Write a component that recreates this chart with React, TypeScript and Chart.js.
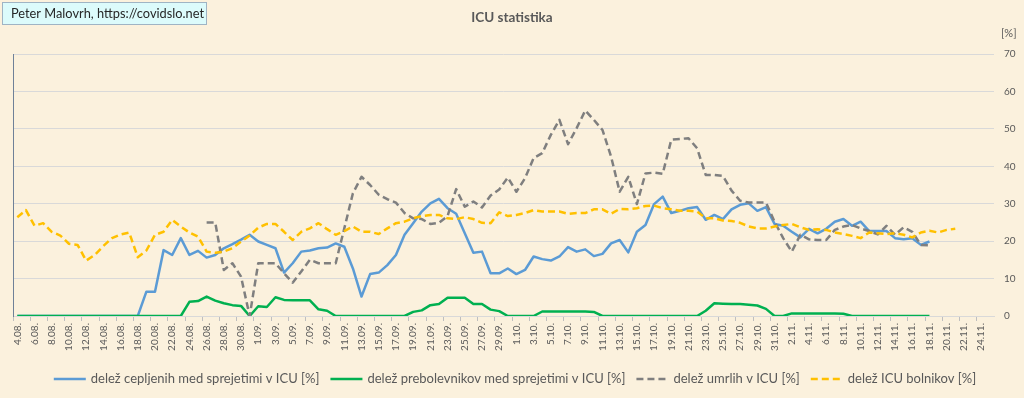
import React, { useEffect, useRef } from 'react';
import { Chart, registerables } from 'chart.js';

Chart.register(...registerables);

const dateLabels = [
  '4.08.', '5.08.', '6.08.', '7.08.', '8.08.', '9.08.', '10.08.', '11.08.', '12.08.', '13.08.',
  '14.08.', '15.08.', '16.08.', '17.08.', '18.08.', '19.08.', '20.08.', '21.08.', '22.08.', '23.08.',
  '24.08.', '25.08.', '26.08.', '27.08.', '28.08.', '29.08.', '30.08.', '31.08.',
  '1.09.', '2.09.', '3.09.', '4.09.', '5.09.', '6.09.', '7.09.', '8.09.', '9.09.', '10.09.',
  '11.09.', '12.09.', '13.09.', '14.09.', '15.09.', '16.09.', '17.09.', '18.09.', '19.09.', '20.09.',
  '21.09.', '22.09.', '23.09.', '24.09.', '25.09.', '26.09.', '27.09.', '28.09.', '29.09.', '30.09.',
  '1.10.', '2.10.', '3.10.', '4.10.', '5.10.', '6.10.', '7.10.', '8.10.', '9.10.', '10.10.',
  '11.10.', '12.10.', '13.10.', '14.10.', '15.10.', '16.10.', '17.10.', '18.10.', '19.10.', '20.10.',
  '21.10.', '22.10.', '23.10.', '24.10.', '25.10.', '26.10.', '27.10.', '28.10.', '29.10.', '30.10.', '31.10.',
  '1.11.', '2.11.', '3.11.', '4.11.', '5.11.', '6.11.', '7.11.', '8.11.', '9.11.', '10.11.',
  '11.11.', '12.11.', '13.11.', '14.11.', '15.11.', '16.11.', '17.11.', '18.11.', '19.11.', '20.11.',
  '21.11.', '22.11.', '23.11.', '24.11.', '25.11.',
];

// delež cepljenih med sprejetimi v ICU [%]
const vaccinatedShare = [
  0, 0, 0, 0, 0, 0, 0, 0, 0, 0, 0, 0, 0, 0,
  0, 6.5, 6.5, 17.6, 16.3, 20.8, 16.3, 17.4, 15.6, 16.3, 18.1, 19.2, 20.4, 21.7,
  19.9, 19.0, 18.1, 11.6, 14.1, 17.2, 17.5, 18.1, 18.3, 19.4, 18.5, 12.7, 5.2, 11.2,
  11.6, 13.6, 16.3, 21.7, 24.8, 27.9, 30.1, 31.3, 28.8, 27.3, 22.1, 16.9, 17.2, 11.4,
  11.4, 12.7, 11.2, 12.3, 15.9, 15.2, 14.8, 15.9, 18.4, 17.2, 17.8, 16.0, 16.6, 19.4,
  20.3, 17.0, 22.5, 24.3, 29.9, 31.9, 27.5, 28.1, 28.8, 29.1, 25.7, 27.0, 25.9, 28.5,
  29.7, 30.1, 28.1, 29.1, 24.6, 24.1, 22.5, 21.0, 23.3, 22.1, 23.3, 25.2, 25.9, 24.1,
  25.2, 22.7, 22.7, 22.7, 20.8, 20.5, 20.8, 19.0, 19.9,
  null, null, null, null, null, null, null,
];

// delež prebolevnikov med sprejetimi v ICU [%]
const recoveredShare = [
  0, 0, 0, 0, 0, 0, 0, 0, 0, 0, 0, 0, 0, 0, 0, 0, 0, 0, 0, 0,
  3.8, 4.0, 5.2, 4.1, 3.4, 2.9, 2.7, 0, 2.6, 2.4, 5.0, 4.3, 4.2, 4.2, 4.2, 1.8, 1.4,
  0, 0, 0, 0, 0, 0, 0, 0, 0,
  1.1, 1.5, 2.9, 3.2, 4.9, 4.9, 4.9, 3.2, 3.2, 1.7, 1.3,
  0, 0, 0, 0,
  1.2, 1.2, 1.2, 1.2, 1.2, 1.2, 1.1,
  0, 0, 0, 0, 0, 0, 0, 0, 0, 0, 0, 0,
  1.4, 3.4, 3.3, 3.2, 3.2, 3.0, 2.8, 1.9,
  0, 0,
  0.7, 0.7, 0.7, 0.7, 0.7, 0.7, 0.6,
  0, 0, 0, 0, 0, 0, 0, 0, 0, 0,
  null, null, null, null, null, null, null,
];

// delež umrlih v ICU [%]
const deceasedShare = [
  null, null, null, null, null, null, null, null, null, null, null,
  null, null, null, null, null, null, null, null, null, null, null,
  25.0, 25.0, 12.3, 14.1, 10.5, 0, 14.1, 14.1, 14.1, 11.4, 8.9, 11.9, 15.0, 14.1,
  14.1, 14.1, 23.4, 32.8, 37.2, 35.0, 32.4, 31.2, 30.3, 27.5, 26.1, 25.9, 24.6, 24.9,
  26.7, 33.9, 29.2, 30.6, 29.0, 32.2, 33.8, 37.0, 33.2, 36.8, 42.2, 43.5, 48.4, 52.4,
  45.9, 50.2, 54.9, 52.4, 49.7, 42.6, 33.2, 37.2, 29.9, 38.1, 38.3, 38.0, 47.1, 47.3,
  47.5, 44.8, 37.7, 37.7, 37.4, 33.5, 30.8, 30.3, 30.3, 30.3, 25.2, 20.8, 17.2, 21.7,
  20.5, 20.3, 20.3, 23.0, 23.9, 24.3, 23.4, 22.7, 21.8, 24.1, 21.7, 23.7, 22.5, 19.0,
  18.9,
  null, null, null, null, null, null, null,
];

// delež ICU bolnikov [%]
const icuPatientShare = [
  26.4, 28.3, 24.1, 24.8, 22.5, 21.5, 19.3, 19.0, 14.8, 16.3, 18.7, 20.8, 21.8, 22.3,
  15.7, 17.5, 21.7, 22.5, 25.7, 23.9, 22.3, 21.2, 17.2, 16.9, 17.2, 18.1, 19.9, 21.5,
  23.6, 24.6, 24.6, 22.5, 20.3, 22.5, 23.4, 24.8, 23.2, 21.7, 22.7, 23.9, 22.5, 22.5,
  21.9, 23.4, 24.8, 25.2, 26.1, 26.7, 27.0, 27.0, 26.1, 25.9, 26.4, 25.9, 24.9, 24.8,
  27.7, 26.7, 27.0, 27.5, 28.3, 27.9, 27.9, 27.9, 27.3, 27.5, 27.5, 28.5, 28.5, 27.3,
  28.6, 28.5, 28.8, 29.4, 29.5, 28.8, 28.5, 28.1, 28.1, 27.9, 26.1, 26.1, 25.5, 25.4,
  24.9, 23.9, 23.4, 23.4, 23.9, 24.3, 24.6, 23.7, 23.0, 23.2, 23.0, 22.3, 21.9, 21.4,
  20.8, 22.3, 22.1, 21.9, 22.1, 21.7, 21.0, 22.3, 22.8, 22.3, 23.0, 23.3,
  null, null, null, null,
];

const seriesNames = [
  'delež cepljenih med sprejetimi v ICU [%]',
  'delež prebolevnikov med sprejetimi v ICU [%]',
  'delež umrlih v ICU [%]',
  'delež ICU bolnikov [%]',
];

const yMin = 0;
const yMax = 70;
const yStep = 10;

const titleText = 'ICU statistika';
const sourceText = 'Peter Malovrh, https://covidslo.net';
const unitText = '[%]';

const FONT = 'Lato, "Noto Sans", "DejaVu Sans", sans-serif';
const TEXT_COLOR = '#595959';

const decorPlugin = {
  id: 'decor',
  beforeDraw(chart: any) {
    const ctx = chart.ctx;
    ctx.save();
    ctx.fillStyle = '#fbf1dd';
    ctx.fillRect(0, 0, chart.width, chart.height);
    ctx.restore();
  },
  afterDraw(chart: any) {
    const ctx = chart.ctx;
    ctx.save();
    // source box
    ctx.fillStyle = '#dcfbfb';
    ctx.fillRect(2.5, 2.5, 204, 22);
    ctx.strokeStyle = '#9fb4c4';
    ctx.lineWidth = 1;
    ctx.strokeRect(2.5, 2.5, 204, 22);
    ctx.fillStyle = '#262626';
    ctx.font = `12.8px ${FONT}`;
    ctx.textBaseline = 'middle';
    ctx.textAlign = 'left';
    ctx.fillText(sourceText, 11, 14);

    // title
    ctx.font = `bold 13.5px ${FONT}`;
    ctx.fillStyle = TEXT_COLOR;
    ctx.textAlign = 'center';
    ctx.fillText(titleText, 512, 18);

    // unit label
    ctx.font = `11px ${FONT}`;
    ctx.textAlign = 'left';
    ctx.fillText(unitText, 1001, 33);

    // legend
    const sampleW = 32;
    const gapText = 5;
    const gapItem = 11;
    ctx.font = `13px ${FONT}`;
    const datasets = chart.data.datasets;
    const widths = datasets.map((d: any) => ctx.measureText(d.label).width);
    let total = 0;
    widths.forEach((w: number, i: number) => {
      total += sampleW + gapText + w + (i < widths.length - 1 ? gapItem : 0);
    });
    let x = 515 - total / 2;
    const y = 379;
    datasets.forEach((d: any, i: number) => {
      ctx.beginPath();
      ctx.strokeStyle = d.borderColor;
      ctx.lineWidth = 2.5;
      ctx.setLineDash(d.borderDash || []);
      ctx.moveTo(x, y);
      ctx.lineTo(x + sampleW, y);
      ctx.stroke();
      ctx.setLineDash([]);
      x += sampleW + gapText;
      ctx.fillStyle = TEXT_COLOR;
      ctx.fillText(d.label, x, y);
      x += widths[i] + gapItem;
    });
    ctx.restore();
  },
};

export default function App() {
  const canvasRef = useRef<HTMLCanvasElement | null>(null);

  useEffect(() => {
    document.body.style.margin = '0';
    const canvas = canvasRef.current;
    if (!canvas) return;
    const lineCommon = {
      pointRadius: 0,
      pointHoverRadius: 0,
      borderWidth: 2.5,
      tension: 0,
      fill: false,
      yAxisID: 'y',
      borderJoinStyle: 'round' as const,
    };
    const chart = new Chart(canvas, {
      type: 'line',
      data: {
        labels: dateLabels,
        datasets: [
          { ...lineCommon, label: seriesNames[0], data: vaccinatedShare, borderColor: '#5b9bd5', backgroundColor: '#5b9bd5', order: 4 },
          { ...lineCommon, label: seriesNames[1], data: recoveredShare, borderColor: '#00b050', backgroundColor: '#00b050', order: 3 },
          { ...lineCommon, label: seriesNames[2], data: deceasedShare, borderColor: '#7f7f7f', backgroundColor: '#7f7f7f', borderDash: [7, 4], order: 2 },
          { ...lineCommon, label: seriesNames[3], data: icuPatientShare, borderColor: '#ffc000', backgroundColor: '#ffc000', borderDash: [7, 4], order: 1 },
        ],
      },
      options: {
        animation: false,
        responsive: false,
        devicePixelRatio: 1,
        layout: { padding: { top: 54, left: 13, right: 0, bottom: 0 } },
        plugins: {
          legend: { display: false },
          title: { display: false },
          tooltip: { enabled: false },
        },
        scales: {
          x: {
            type: 'category',
            offset: true,
            grid: {
              offset: true,
              drawOnChartArea: false,
              drawTicks: true,
              tickLength: 5,
              color: (c: any) => (c.index % 2 === 0 ? '#bfbfbf' : 'rgba(0,0,0,0)'),
            },
            border: { display: true, color: '#d9d9d9', width: 1 },
            ticks: {
              autoSkip: false,
              maxRotation: 90,
              minRotation: 90,
              padding: 2,
              color: TEXT_COLOR,
              font: { size: 10, family: FONT },
              callback: (_v: any, i: number) => (i % 2 === 0 ? dateLabels[i] : ''),
            },
            afterFit: (s: any) => { s.height = 82; },
          },
          yL: {
            type: 'linear',
            position: 'left',
            min: yMin,
            max: yMax,
            ticks: { display: false },
            grid: { display: false, drawTicks: false },
            border: { display: true, color: '#6f8198', width: 1 },
            afterFit: (s: any) => { s.width = 0; },
          },
          y: {
            type: 'linear',
            position: 'right',
            min: yMin,
            max: yMax,
            ticks: {
              stepSize: yStep,
              padding: 10,
              color: TEXT_COLOR,
              font: { size: 10, family: FONT },
            },
            grid: { color: '#d9d9d9', drawTicks: false },
            border: { display: false },
            afterFit: (s: any) => { s.width = 30; },
          },
        },
      },
      plugins: [decorPlugin],
    });
    return () => chart.destroy();
  }, []);

  return (
    <div style={{ width: 1024, height: 398 }}>
      <canvas ref={canvasRef} width={1024} height={398} style={{ display: 'block' }} />
    </div>
  );
}
